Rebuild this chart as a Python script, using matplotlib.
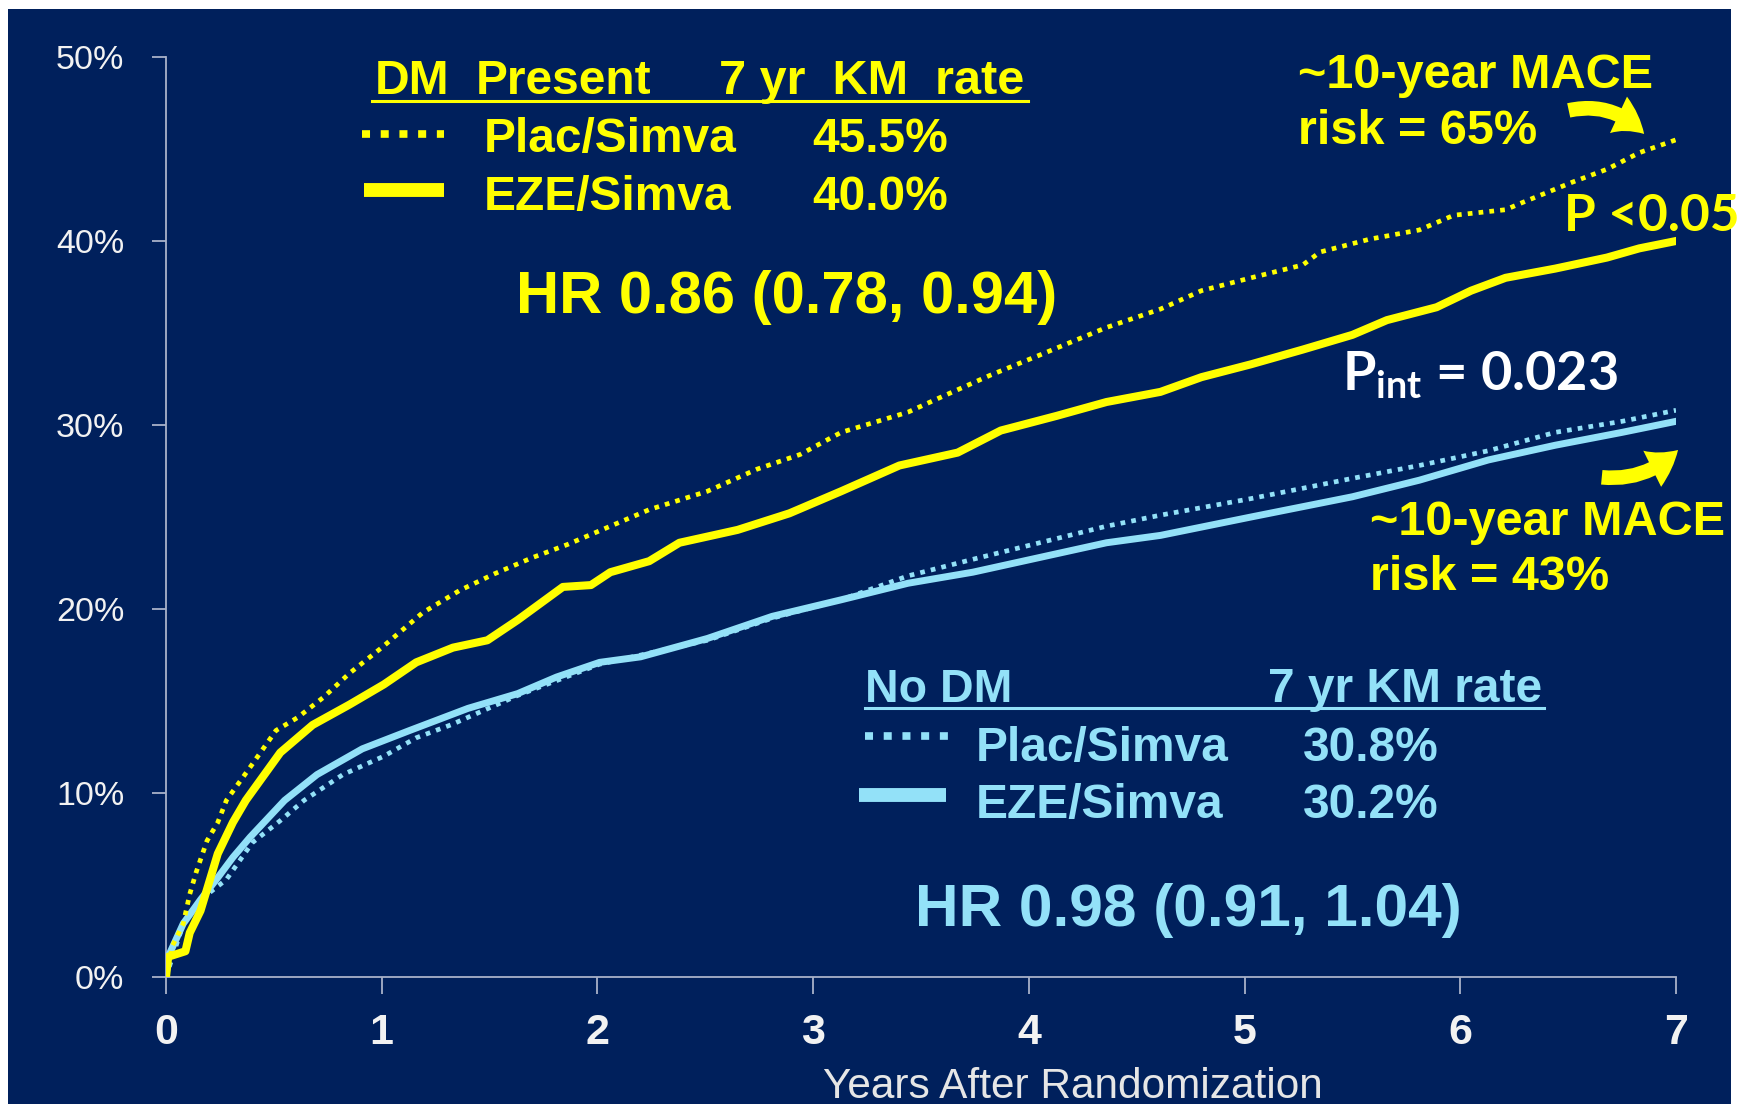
import matplotlib as mpl
mpl.use('Agg')
import matplotlib.pyplot as plt
from matplotlib.patches import Rectangle, FancyArrowPatch
from matplotlib.lines import Line2D

W, H = 1739, 1104

NAVY = '#00205C'
YELLOW = '#FFFF00'
CYAN = '#93E1F8'
AXIS_GRAY = '#A9B2C9'
TICK_WHITE = '#F2F2F2'

plt.rcParams['font.family'] = ['Liberation Sans', 'DejaVu Sans']
plt.rcParams['mathtext.fontset'] = 'custom'
plt.rcParams['mathtext.rm'] = 'Lato:bold'
plt.rcParams['mathtext.it'] = 'Lato:bold'
plt.rcParams['mathtext.bf'] = 'Lato:bold'

# KM cumulative event rates (%) by years after randomization
dm_plac_years = [0, 0.03, 0.08, 0.11, 0.14, 0.19, 0.24, 0.28, 0.39, 0.51, 0.61, 0.73, 0.85,
                 1.0, 1.19, 1.36, 1.52, 1.70, 1.86, 2.04, 2.24, 2.51, 2.74, 2.94, 3.13, 3.44,
                 3.59, 3.82, 4.05, 4.36, 4.61, 4.80, 5.03, 5.27, 5.35, 5.58, 5.81, 5.97, 6.21,
                 6.29, 6.52, 6.68, 6.83, 7.0]
dm_plac_rate = [0, 1.7, 2.9, 4.5, 5.7, 7.4, 8.4, 9.6, 11.4, 13.4, 14.1, 15.2, 16.5,
                17.9, 19.8, 21.0, 21.9, 22.8, 23.5, 24.4, 25.4, 26.4, 27.6, 28.4, 29.6, 30.7,
                31.5, 32.7, 33.8, 35.3, 36.3, 37.3, 38.0, 38.7, 39.4, 40.1, 40.6, 41.4, 41.7,
                42.1, 43.2, 43.9, 44.8, 45.5]

dm_eze_years = [0, 0.01, 0.09, 0.11, 0.16, 0.24, 0.31, 0.37, 0.53, 0.68, 0.85, 1.01, 1.16,
                1.33, 1.49, 1.63, 1.84, 1.97, 2.06, 2.24, 2.38, 2.65, 2.89, 3.13, 3.40, 3.67,
                3.87, 4.13, 4.36, 4.61, 4.80, 5.03, 5.27, 5.50, 5.66, 5.89, 6.05, 6.21, 6.44,
                6.68, 6.83, 7.0]
dm_eze_rate = [0, 1.1, 1.4, 2.4, 3.6, 6.7, 8.4, 9.6, 12.2, 13.7, 14.8, 15.9, 17.1,
               17.9, 18.3, 19.4, 21.2, 21.3, 22.0, 22.6, 23.6, 24.3, 25.2, 26.4, 27.8, 28.5,
               29.7, 30.5, 31.25, 31.8, 32.6, 33.3, 34.1, 34.9, 35.7, 36.4, 37.3, 38.0, 38.5,
               39.1, 39.6, 40.0]

nodm_plac_years = [0, 0.08, 0.16, 0.28, 0.40, 0.53, 0.64, 0.82, 1.01, 1.16, 1.32, 1.63,
                   2.01, 2.51, 2.81, 3.13, 3.44, 3.74, 4.05, 4.36, 4.61, 5.03, 5.50, 5.81,
                   6.13, 6.44, 6.75, 7.0]
nodm_plac_rate = [0, 2.9, 4.2, 5.3, 7.3, 8.5, 9.6, 11.0, 12.0, 13.0, 13.7, 15.3,
                  17.0, 18.3, 19.5, 20.5, 21.8, 22.7, 23.6, 24.5, 25.1, 26.0, 27.1, 27.8,
                  28.6, 29.6, 30.2, 30.8]

nodm_eze_years = [0, 0.01, 0.08, 0.16, 0.24, 0.31, 0.39, 0.55, 0.70, 0.91, 1.13, 1.40,
                  1.63, 1.81, 2.01, 2.20, 2.51, 2.81, 3.13, 3.44, 3.74, 4.05, 4.36, 4.61,
                  5.03, 5.50, 5.81, 6.13, 6.44, 6.75, 7.0]
nodm_eze_rate = [0, 1.1, 2.9, 4.2, 5.4, 6.5, 7.6, 9.6, 11.0, 12.4, 13.4, 14.6,
                 15.4, 16.3, 17.1, 17.4, 18.4, 19.6, 20.5, 21.4, 22.0, 22.8, 23.6, 24.0,
                 25.0, 26.1, 27.0, 28.1, 28.9, 29.6, 30.2]

x_ticks = [0, 1, 2, 3, 4, 5, 6, 7]
y_ticks = [0, 10, 20, 30, 40, 50]
y_tick_labels = ['0%', '10%', '20%', '30%', '40%', '50%']

km_7yr = {'dm_plac': '45.5%', 'dm_eze': '40.0%', 'nodm_plac': '30.8%', 'nodm_eze': '30.2%'}


def P(x, y):
    # pixel position (from top-left) -> figure fraction
    return (x / W, 1 - y / H)


fig = plt.figure(figsize=(W / 100, H / 100), dpi=100, facecolor='white')
fig.patches.append(Rectangle(P(8, H), (1731 - 8) / W, (H - 9) / H,
                             transform=fig.transFigure, facecolor=NAVY,
                             edgecolor='none', zorder=-10))

ax = fig.add_axes([166 / W, 1 - 977 / H, (1676 - 166) / W, (977 - 57) / H])
ax.set_facecolor('none')
ax.set_xlim(0, 7)
ax.set_ylim(0, 50)
for s in ['top', 'right']:
    ax.spines[s].set_visible(False)
for s in ['left', 'bottom']:
    ax.spines[s].set_color(AXIS_GRAY)
    ax.spines[s].set_linewidth(1.3)

dots = (0, (1, 1.3))
ax.plot(nodm_plac_years, nodm_plac_rate, color=CYAN, lw=3.4, linestyle=dots, zorder=2)
ax.plot(nodm_eze_years, nodm_eze_rate, color=CYAN, lw=5, zorder=3, solid_joinstyle='round')
ax.plot(dm_eze_years, dm_eze_rate, color=YELLOW, lw=5.8, zorder=4, solid_joinstyle='round')
ax.plot(dm_plac_years, dm_plac_rate, color=YELLOW, lw=3.4, linestyle=dots, zorder=5)

ax.set_xticks(x_ticks)
ax.set_xticklabels([str(t) for t in x_ticks], fontweight='bold')
ax.set_yticks(y_ticks)
ax.set_yticklabels(y_tick_labels)
ax.tick_params(axis='x', length=12, width=1.3, color=AXIS_GRAY, pad=14,
               labelsize=31, labelcolor=TICK_WHITE)
ax.tick_params(axis='y', length=10, width=1.3, color=AXIS_GRAY, pad=20,
               labelsize=24.5, labelcolor=TICK_WHITE)

fig.text(*P(1073, 1098), 'Years After Randomization', ha='center', va='baseline',
         fontsize=30.5, color='#E6E6E6')

# --- DM present legend block
bold = dict(fontweight='bold', va='baseline')
fig.text(*P(375, 94), 'DM', color=YELLOW, fontsize=34.5, **bold)
fig.text(*P(476, 94), 'Present', color=YELLOW, fontsize=34.5, **bold)
fig.text(*P(719, 94), '7 yr  KM  rate', color=YELLOW, fontsize=35, **bold)
fig.add_artist(Line2D([372 / W, 1028 / W], [1 - 101 / H] * 2, transform=fig.transFigure,
                      color=YELLOW, lw=2.2))
fig.add_artist(Line2D([362 / W, 444 / W], [1 - 134 / H] * 2, transform=fig.transFigure,
                      color=YELLOW, lw=5.5, linestyle=(0, (1.05, 1.4))))
fig.add_artist(Line2D([364 / W, 444 / W], [1 - 190 / H] * 2, transform=fig.transFigure,
                      color=YELLOW, lw=10, solid_capstyle='butt'))
fig.text(*P(484, 152), 'Plac/Simva', color=YELLOW, fontsize=34.5, **bold)
fig.text(*P(812, 152), km_7yr['dm_plac'], color=YELLOW, fontsize=34.5, **bold)
fig.text(*P(484, 210), 'EZE/Simva', color=YELLOW, fontsize=34.5, **bold)
fig.text(*P(812, 210), km_7yr['dm_eze'], color=YELLOW, fontsize=34.5, **bold)
fig.text(*P(516, 313), 'HR 0.86 (0.78, 0.94)', color=YELLOW, fontsize=43, **bold)

# --- No DM legend block
fig.text(*P(865, 702), 'No DM', color=CYAN, fontsize=33.5, **bold)
fig.text(*P(1268, 702), '7 yr KM rate', color=CYAN, fontsize=34.5, **bold)
fig.add_artist(Line2D([865 / W, 1544 / W], [1 - 708 / H] * 2, transform=fig.transFigure,
                      color=CYAN, lw=2.2))
fig.add_artist(Line2D([865 / W, 948 / W], [1 - 736 / H] * 2, transform=fig.transFigure,
                      color=CYAN, lw=5.5, linestyle=(0, (1.05, 1.4))))
fig.add_artist(Line2D([859 / W, 946 / W], [1 - 795 / H] * 2, transform=fig.transFigure,
                      color=CYAN, lw=10, solid_capstyle='butt'))
fig.text(*P(976, 761), 'Plac/Simva', color=CYAN, fontsize=34.5, **bold)
fig.text(*P(1303, 761), km_7yr['nodm_plac'], color=CYAN, fontsize=34.5, **bold)
fig.text(*P(976, 818), 'EZE/Simva', color=CYAN, fontsize=34.5, **bold)
fig.text(*P(1303, 818), km_7yr['nodm_eze'], color=CYAN, fontsize=34.5, **bold)
fig.text(*P(915, 926), 'HR 0.98 (0.91, 1.04)', color=CYAN, fontsize=43.5, **bold)

# --- right-hand annotations
fig.text(*P(1298, 88), '~10-year MACE', color=YELLOW, fontsize=35, **bold)
fig.text(*P(1298, 144), 'risk = 65%', color=YELLOW, fontsize=35, **bold)
fig.text(*P(1370, 535), '~10-year MACE', color=YELLOW, fontsize=35, **bold)
fig.text(*P(1370, 590), 'risk = 43%', color=YELLOW, fontsize=35, **bold)
fig.text(*P(1564, 231), 'P <0.05', color=YELLOW, fontsize=37, family='Lato', **bold)
fig.text(*P(1342, 391), r'P$_{\rm int}$ = 0.023', color='white', fontsize=39,
         family='Lato', **bold)

arrow_style = 'simple,tail_width=1.05,head_width=2.9,head_length=2.3'
fig.add_artist(FancyArrowPatch(P(1566, 111), P(1646, 136), transform=fig.transFigure,
                               arrowstyle=arrow_style, connectionstyle='arc3,rad=-0.3',
                               mutation_scale=10, color=YELLOW, lw=0))
fig.add_artist(FancyArrowPatch(P(1599, 477), P(1680, 448), transform=fig.transFigure,
                               arrowstyle=arrow_style, connectionstyle='arc3,rad=0.25',
                               mutation_scale=10, color=YELLOW, lw=0))

fig.savefig('out.png', dpi=100, facecolor='white')
